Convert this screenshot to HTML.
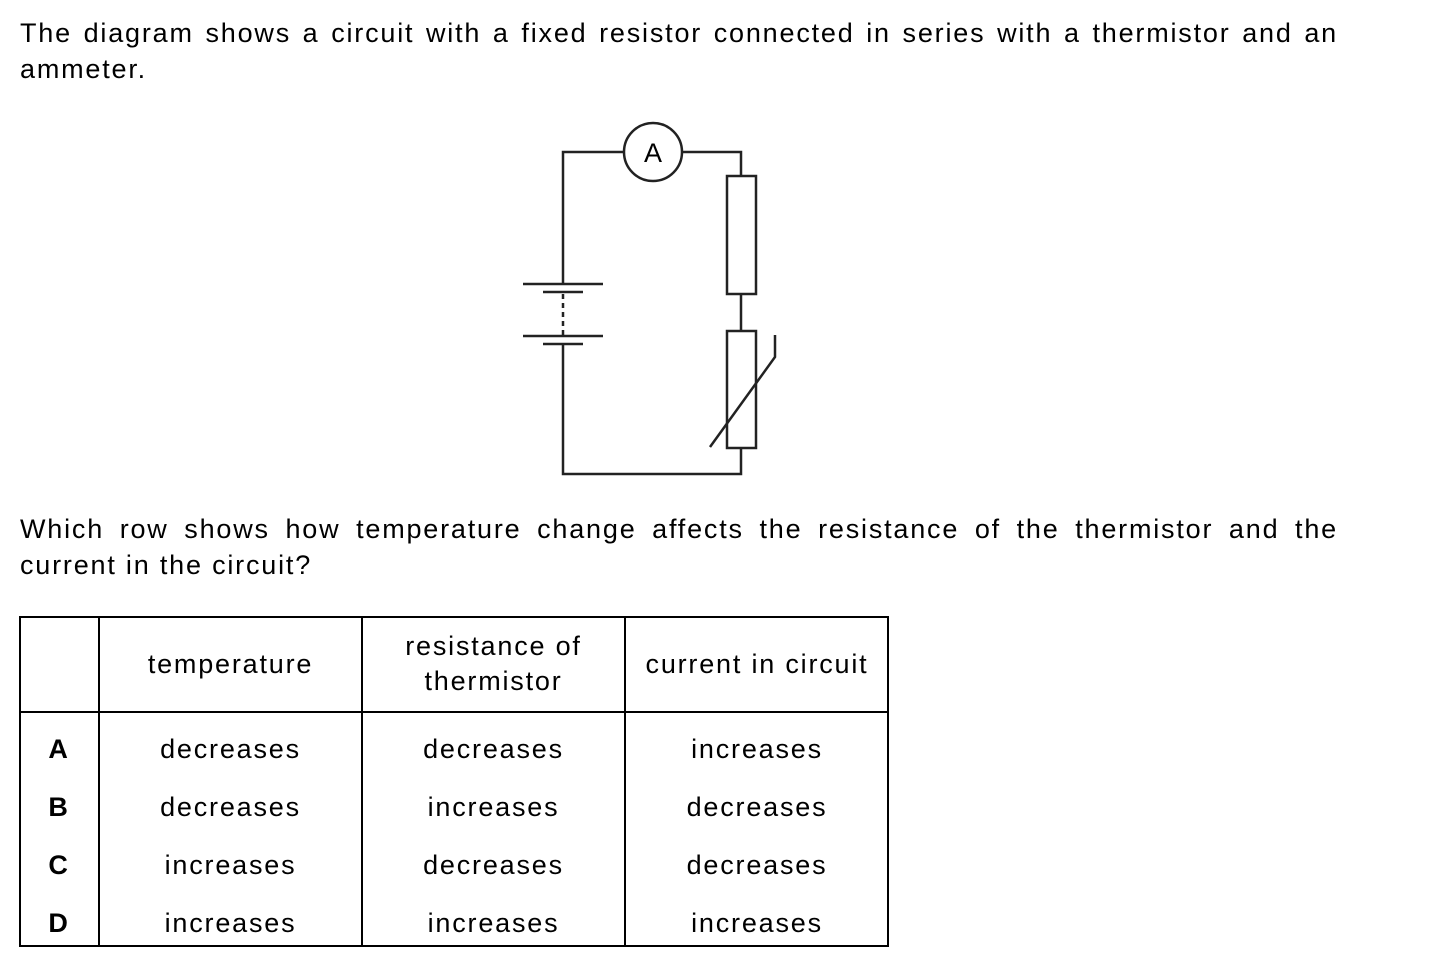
<!DOCTYPE html>
<html><head><style>
body{margin:0;width:1437px;height:976px;background:#fff;font-family:"Liberation Sans",Arial,sans-serif;color:#000;position:relative;overflow:hidden}
.p{position:absolute;left:20px;width:1318px;font-size:27px;line-height:36px;text-align:justify;text-align-last:left;letter-spacing:1.8px}
table{position:absolute;left:20px;top:617px;border-collapse:collapse;font-size:27px;letter-spacing:1.8px;table-layout:fixed;width:868px}
td{text-align:center;padding:0}
.h td{height:94px;border-bottom:2px solid #000;line-height:35px}
.r td{height:58px}
.r td span{position:relative;top:7px}
.c1{font-weight:bold;border-right:2px solid #000}
.c2,.c3{border-right:2px solid #000}
</style></head><body>
<div class="p" style="top:15px">The diagram shows a circuit with a fixed resistor connected in series with a thermistor and an ammeter.</div>
<svg style="position:absolute;left:0;top:0" width="1437" height="976">
<g stroke="#222" stroke-width="2.5" fill="none">
<polyline points="563,284 563,152 624,152"/>
<polyline points="682,152 741,152 741,176"/>
<circle cx="653" cy="152" r="29"/>
<rect x="727" y="176" width="29" height="118"/>
<line x1="741" y1="294" x2="741" y2="331"/>
<rect x="727" y="331" width="29" height="117"/>
<polyline points="710,447 775,357 775,335"/>
<polyline points="741,448 741,474 563,474 563,344"/>
<line x1="523" y1="284" x2="603" y2="284"/>
<line x1="543" y1="292" x2="583" y2="292"/>
<line x1="523" y1="336" x2="603" y2="336"/>
<line x1="543" y1="344" x2="583" y2="344"/>
<line x1="563" y1="294" x2="563" y2="336" stroke-dasharray="5,4"/>
</g>
<text x="653" y="162" font-family="Liberation Sans,Arial,sans-serif" font-size="27" text-anchor="middle">A</text>
<rect x="20" y="617" width="868" height="329" fill="none" stroke="#000" stroke-width="2"/>
<line x1="99" y1="900" x2="99" y2="946" stroke="#000" stroke-width="2"/>
<line x1="362" y1="900" x2="362" y2="946" stroke="#000" stroke-width="2"/>
<line x1="625" y1="900" x2="625" y2="946" stroke="#000" stroke-width="2"/>
</svg>
<div class="p" style="top:511px">Which row shows how temperature change affects the resistance of the thermistor and the current in the circuit?</div>
<table>
<colgroup><col style="width:79px"><col style="width:263px"><col style="width:263px"><col style="width:263px"></colgroup>
<tr class="h"><td class="c1"></td><td class="c2">temperature</td><td class="c3">resistance of<br>thermistor</td><td class="c4">current in circuit</td></tr>
<tr class="r"><td class="c1"><span>A</span></td><td class="c2"><span>decreases</span></td><td class="c3"><span>decreases</span></td><td class="c4"><span>increases</span></td></tr>
<tr class="r"><td class="c1"><span>B</span></td><td class="c2"><span>decreases</span></td><td class="c3"><span>increases</span></td><td class="c4"><span>decreases</span></td></tr>
<tr class="r"><td class="c1"><span>C</span></td><td class="c2"><span>increases</span></td><td class="c3"><span>decreases</span></td><td class="c4"><span>decreases</span></td></tr>
<tr class="r"><td class="c1"><span>D</span></td><td class="c2"><span>increases</span></td><td class="c3"><span>increases</span></td><td class="c4"><span>increases</span></td></tr>
</table>
</body></html>
